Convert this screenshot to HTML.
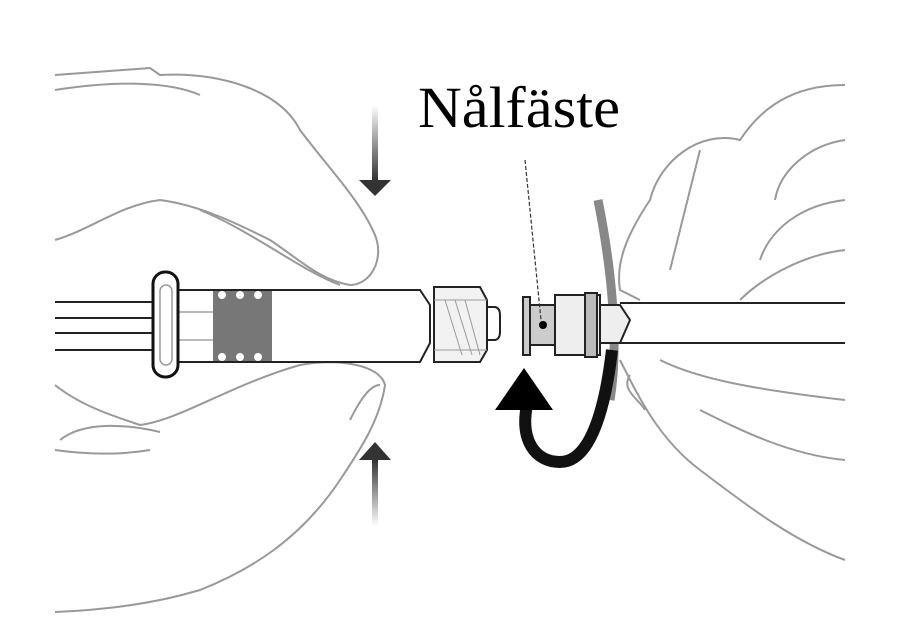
<!DOCTYPE html>
<html><head><style>
html,body{margin:0;padding:0;background:#fff;}
svg{display:block;}
</style></head><body>
<svg width="923" height="643" viewBox="0 0 923 643" xmlns="http://www.w3.org/2000/svg">
<defs>
<linearGradient id="gd" x1="0" y1="0" x2="0" y2="1"><stop offset="0" stop-color="#fff"/><stop offset="1" stop-color="#333"/></linearGradient>
<linearGradient id="gu" x1="0" y1="1" x2="0" y2="0"><stop offset="0" stop-color="#fff"/><stop offset="1" stop-color="#333"/></linearGradient>
</defs>
<g fill="none" stroke="#999" stroke-width="2">
<path d="M55 75 L150 68 L160 75 C220 72 280 90 300 130 C330 170 360 200 375 235 C385 260 370 285 350 285 C320 280 300 260 270 240 C240 225 200 205 160 200 C120 205 90 230 55 240"/>
<path d="M55 90 C120 80 170 82 200 95"/>
<path d="M200 210 C250 230 300 270 340 285"/>
<path d="M55 385 C80 405 110 415 140 425 C180 420 230 385 300 365 C340 358 380 365 385 385 C380 420 360 450 340 480 C300 540 250 570 200 590 C150 605 100 610 55 612"/>
<path d="M55 450 C90 455 120 455 150 450"/>
<path d="M350 420 C360 400 370 385 380 385"/>
<path d="M60 440 C85 420 130 425 160 432"/>
<path d="M845 85 C790 85 760 110 740 140 C700 130 660 160 650 200 C630 230 615 260 620 290 L640 300"/>
<path d="M845 140 C810 145 780 170 775 200"/>
<path d="M845 200 C800 205 770 230 760 260"/>
<path d="M845 250 C800 255 760 280 740 300"/>
<path d="M700 150 C690 190 680 230 670 270"/>
<path d="M620 360 C640 400 660 440 700 470 C740 500 790 540 845 560"/>
<path d="M660 360 C700 380 760 390 845 400"/>
<path d="M845 460 C790 455 740 430 700 410"/>
<path d="M630 375 C620 390 640 400 645 410"/>
</g>
<path d="M598 200 C610 260 620 340 610 400" fill="none" stroke="#888" stroke-width="9"/>
<g stroke="#222" stroke-width="2" fill="none">
<line x1="55" y1="302" x2="160" y2="302"/>
<line x1="55" y1="318" x2="160" y2="318"/>
<line x1="55" y1="333" x2="160" y2="333"/>
<line x1="55" y1="350" x2="160" y2="350"/>
</g>
<path d="M168 290 L420 290 L430 305 L430 343 L420 362 L168 362 Z" fill="#fff" stroke="#222" stroke-width="2"/>
<rect x="213" y="291" width="59" height="70" fill="#777"/>
<g fill="#fff"><circle cx="222" cy="295" r="4"/><circle cx="240" cy="295" r="4"/><circle cx="258" cy="295" r="4"/><circle cx="222" cy="357" r="4"/><circle cx="240" cy="357" r="4"/><circle cx="258" cy="357" r="4"/></g>
<line x1="175" y1="312" x2="213" y2="312" stroke="#bbb" stroke-width="2"/>
<line x1="175" y1="340" x2="213" y2="340" stroke="#bbb" stroke-width="2"/>
<rect x="153" y="272" width="25" height="105" rx="12" fill="#fff" stroke="#111" stroke-width="3"/>
<rect x="160" y="285" width="12" height="80" rx="6" fill="none" stroke="#999" stroke-width="1.5"/>
<path d="M485 307 L495 307 Q500 308 500 315 L500 332 Q500 339 495 340 L485 340 Z" fill="#fff" stroke="#222" stroke-width="2"/>
<path d="M434 287 L480 287 L487 300 L487 350 L480 362 L434 362 Z" fill="#f2f2f2" stroke="#222" stroke-width="2"/>
<g stroke="#999" stroke-width="1"><line x1="445" y1="300" x2="462" y2="355"/><line x1="455" y1="300" x2="472" y2="355"/><line x1="465" y1="300" x2="480" y2="355"/><line x1="434" y1="300" x2="487" y2="300"/><line x1="434" y1="350" x2="487" y2="350"/></g>
<g stroke="#222" stroke-width="2">
<line x1="620" y1="303" x2="845" y2="303"/>
<line x1="620" y1="343" x2="845" y2="343"/>
<rect x="523" y="297" width="7" height="58" fill="#ccc"/>
<rect x="530" y="305" width="25" height="40" fill="#ccc"/>
<rect x="555" y="295" width="45" height="60" fill="#eee"/>
<rect x="585" y="293" width="12" height="64" fill="#bbb"/>
<path d="M600 305 L620 305 L630 320 L620 343 L600 343 Z" fill="#eee"/>
</g>
<circle cx="543" cy="325" r="4" fill="#000"/>
<line x1="525" y1="160" x2="541" y2="320" stroke="#333" stroke-width="1.2" stroke-dasharray="4,2"/>
<path d="M527 405 C520 440 535 462 560 462 C590 462 605 410 612 350" fill="none" stroke="#111" stroke-width="12"/>
<polygon points="495,410 553,410 524,368" fill="#000"/>
<rect x="372" y="105" width="6" height="75" fill="url(#gd)"/>
<polygon points="359,180 391,180 375,196" fill="#333"/>
<rect x="372" y="460" width="6" height="66" fill="url(#gu)"/>
<polygon points="359,460 391,460 375,442" fill="#333"/>
<text x="418" y="127" font-family="Liberation Serif, serif" font-size="58" textLength="202" lengthAdjust="spacingAndGlyphs" fill="#000">Nålfäste</text>
</svg>
</body></html>
